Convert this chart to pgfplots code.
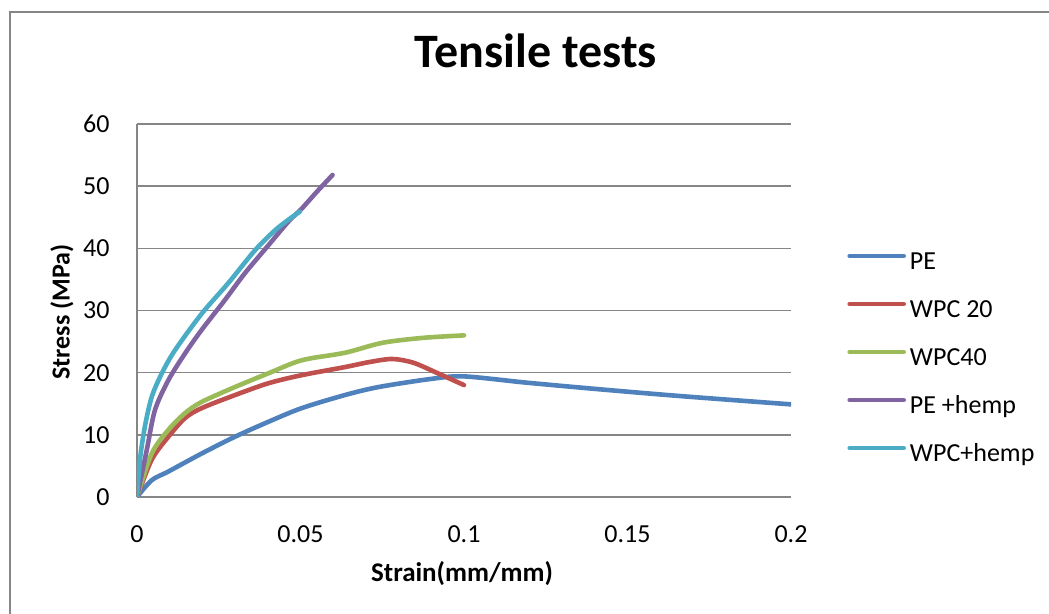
\documentclass[border=0pt]{standalone}
\usepackage{fontspec}
\setmainfont{Carlito}
\usepackage{pgfplots}
\pgfplotsset{compat=1.18}
\definecolor{cPE}{HTML}{4F81BD}
\definecolor{cW20}{HTML}{C0504D}
\definecolor{cW40}{HTML}{9BBB59}
\definecolor{cPEh}{HTML}{8064A2}
\definecolor{cWh}{HTML}{4BACC6}
\definecolor{gridc}{HTML}{868686}
\begin{document}
\begin{tikzpicture}
\useasboundingbox (0,0) rectangle (524.5pt,307pt);
\draw[gridc, line width=1pt] (5pt,-2pt) -- (5pt,301pt) -- (530pt,301pt);
\begin{axis}[
  at={(68.5pt,58.5pt)}, anchor=south west,
  scale only axis, width=327pt, height=186.5pt,
  xmin=0, xmax=0.2, ymin=0, ymax=60,
  axis lines=left, axis line style={-, draw=gridc, line width=0.7pt},
  ymajorgrids, grid style={draw=gridc, line width=0.7pt},
  xtick={0,0.05,0.1,0.15,0.2}, xticklabels={0,0.05,0.1,0.15,0.2},
  ytick={0,10,20,30,40,50,60},
  /pgf/number format/assume math mode=true,
  major tick length=0pt, tick style={draw=none},
  ticklabel style={font=\fontsize{13}{15}\selectfont, inner sep=0pt},
  yticklabel style={anchor=east, xshift=-13.5pt},
  xticklabel style={anchor=north, yshift=-14pt},
  title={Tensile tests},
  title style={font=\fontsize{24}{28}\selectfont\bfseries, at={(0.61,1.163)}, anchor=center},
  xlabel={Strain(mm/mm)},
  xlabel style={font=\fontsize{13.5}{16}\selectfont\bfseries, at={(0.497,-0.206)}, anchor=center},
  ylabel={Stress (MPa)},
  ylabel style={font=\fontsize{13}{15}\selectfont\bfseries, at={(-0.1147,0.496)}, anchor=center, rotate=0},
  legend cell align=left,
  legend style={draw=none, fill=none, at={(1.0856,0.371)}, anchor=west, inner sep=0pt,
    font=\fontsize{13}{15}\selectfont, row sep=12.5pt, column sep=2pt,
    nodes={inner sep=0pt, text height=9pt, text depth=2.5pt}},
  legend image code/.code={\draw[#1, line cap=round] (0pt,3.3pt) -- (27pt,3.3pt);},
  every axis plot/.append style={line width=2.3pt, smooth, line cap=round, line join=round},
]
\addplot[cPE] coordinates {(0,0) (0.0045,2.7) (0.0096,4.1) (0.0198,7.0) (0.03,9.7) (0.0402,12.1) (0.0504,14.3) (0.0636,16.4) (0.074,17.7) (0.090,19.0) (0.100,19.4) (0.119,18.4) (0.142,17.3) (0.167,16.2) (0.2,14.9)};
\addlegendentry{PE}
\addplot[cW20] coordinates {(0,0) (0.0045,6.0) (0.0096,9.7) (0.0147,12.7) (0.0198,14.3) (0.03,16.4) (0.0402,18.3) (0.0504,19.6) (0.0636,20.9) (0.071,21.7) (0.078,22.2) (0.0845,21.6) (0.092,19.9) (0.1,18.0)};
\addlegendentry{WPC 20}
\addplot[cW40] coordinates {(0,0) (0.0045,7.0) (0.0096,10.8) (0.0147,13.5) (0.0198,15.3) (0.03,17.7) (0.0402,19.9) (0.0504,22.0) (0.0636,23.2) (0.075,24.8) (0.0875,25.6) (0.1,26.0)};
\addlegendentry{WPC40}
\addplot[cPEh] coordinates {(0,0) (0.003,7.6) (0.0055,14.0) (0.0096,18.8) (0.0147,23.1) (0.0198,26.9) (0.0269,31.7) (0.033,36.0) (0.0402,40.5) (0.0463,44.3) (0.0504,46.4) (0.055,49.1) (0.0598,51.8)};
\addlegendentry{PE +hemp}
\addplot[cWh] coordinates {(0,0) (0.0009,6) (0.0024,11.3) (0.0045,16.1) (0.0076,19.9) (0.0116,23.6) (0.0198,29.5) (0.0279,34.4) (0.0361,39.7) (0.0422,42.9) (0.0463,44.6) (0.0498,45.9)};
\addlegendentry{WPC+hemp}
\end{axis}
\end{tikzpicture}
\end{document}
